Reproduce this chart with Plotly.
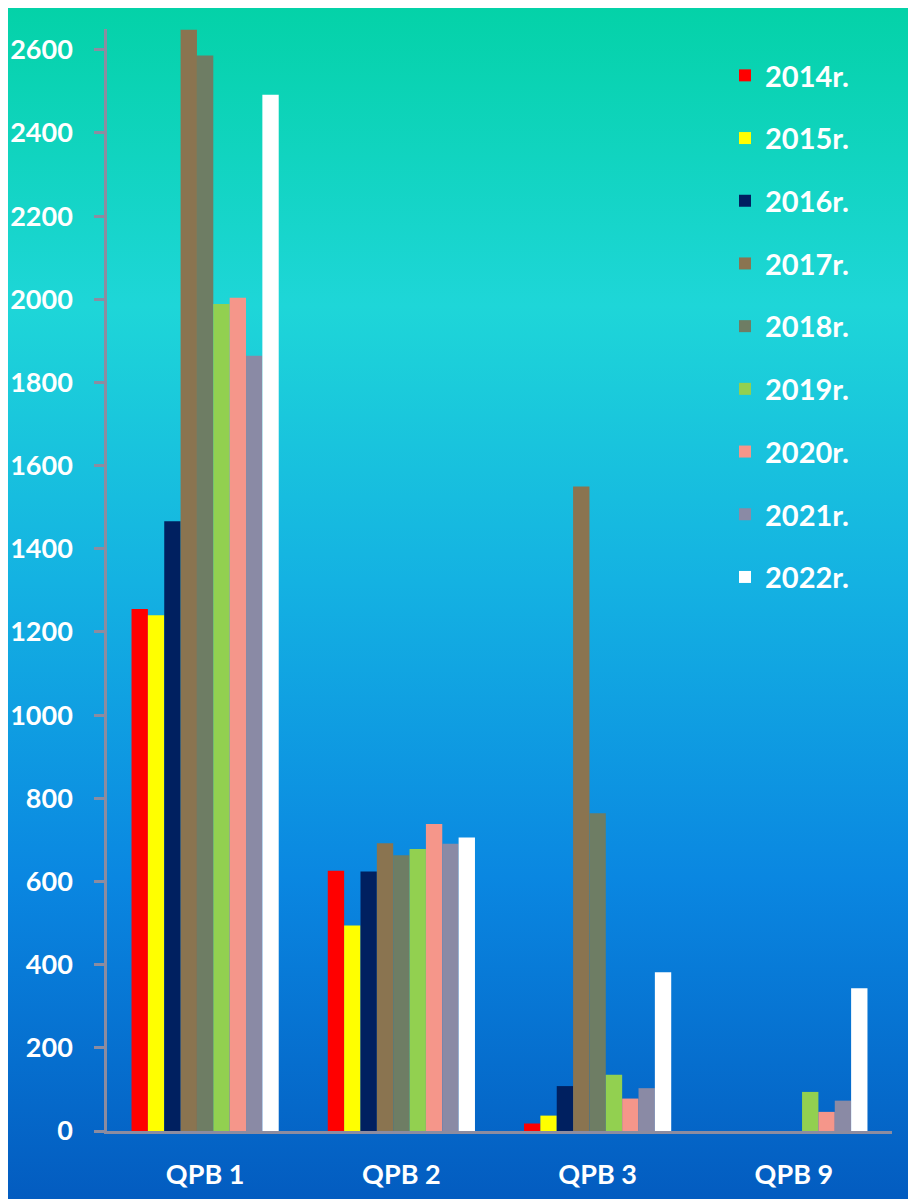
import base64
import plotly.graph_objects as go

categories = ["QPB 1", "QPB 2", "QPB 3", "QPB 9"]
years = ["2014r.", "2015r.", "2016r.", "2017r.", "2018r.", "2019r.", "2020r.", "2021r.", "2022r."]
v2014 = [1255, 626, 18, 0]
v2015 = [1240, 494, 37, 0]
v2016 = [1466, 624, 108, 0]
v2017 = [2648, 692, 1550, 0]
v2018 = [2586, 663, 764, 0]
v2019 = [1989, 678, 135, 94]
v2020 = [2004, 738, 78, 46]
v2021 = [1864, 691, 103, 73]
v2022 = [2492, 706, 382, 343]
series = [v2014, v2015, v2016, v2017, v2018, v2019, v2020, v2021, v2022]
colors = ["#FF0000", "#FFFF00", "#002060", "#8A7450", "#6E7D64",
          "#92D050", "#F5968A", "#8A8AA5", "#FFFFFF"]
y_ticks = list(range(0, 2601, 200))

W, H = 908, 1199
L, R, T, B = 107, 16, 29, 68
pw, ph = W - L - R, H - T - B

svg = (
    '<svg xmlns="http://www.w3.org/2000/svg" width="100" height="100" viewBox="0 0 100 100" preserveAspectRatio="none">'
    '<defs><linearGradient id="g" x1="0" y1="0" x2="0" y2="1">'
    '<stop offset="0" stop-color="rgb(4,210,168)"/>'
    '<stop offset="0.25" stop-color="rgb(30,214,216)"/>'
    '<stop offset="0.48" stop-color="rgb(20,178,226)"/>'
    '<stop offset="0.73" stop-color="rgb(10,135,225)"/>'
    '<stop offset="1" stop-color="rgb(3,92,192)"/>'
    '</linearGradient></defs>'
    '<rect x="0" y="0" width="100" height="100" fill="url(#g)"/></svg>'
)
src = "data:image/svg+xml;base64," + base64.b64encode(svg.encode()).decode()

fig = go.Figure()
for name, vals, col in zip(years, series, colors):
    fig.add_trace(go.Bar(
        x=categories, y=vals, name=name, legendgroup=name,
        marker=dict(color=col, line=dict(width=0)),
    ))

font_family = "Lato, 'Open Sans', sans-serif"
fig.update_layout(
    width=W, height=H,
    margin=dict(l=L, r=R, t=T, b=B, autoexpand=False),
    paper_bgcolor="white",
    plot_bgcolor="rgba(0,0,0,0)",
    barmode="group", bargap=0.25, bargroupgap=0,
    font=dict(family=font_family, size=27, color="white", weight="bold"),
    images=[dict(
        source=src, xref="paper", yref="paper",
        x=(8 - L) / pw, y=(H - B - 8) / ph,
        sizex=(W - 8) / pw, sizey=(H - 8) / ph,
        xanchor="left", yanchor="top", sizing="stretch", layer="below",
    )],
    legend=dict(
        x=(725 - L) / pw, y=(H - B - 50) / ph, xanchor="left", yanchor="top",
        bgcolor="rgba(0,0,0,0)", traceorder="grouped", tracegroupgap=22,
        font=dict(family=font_family, size=29, color="white", weight="bold"),
    ),
    xaxis=dict(
        showline=True, linecolor="#8C8CA0", linewidth=3, ticks="",
        showgrid=False, zeroline=False, ticklabelstandoff=18, automargin=False,
        tickfont=dict(family=font_family, size=27, color="white", weight="bold"),
    ),
    yaxis=dict(
        range=[0, 2650], tickvals=y_ticks, showgrid=False, zeroline=False,
        showline=True, linecolor="#8C8CA0", linewidth=2.5, automargin=False,
        ticks="outside", ticklen=10, tickwidth=2.5, tickcolor="#8C8CA0",
        ticklabelstandoff=16,
        tickfont=dict(family=font_family, size=27, color="white", weight="bold"),
    ),
)

fig.write_html("out.html")
